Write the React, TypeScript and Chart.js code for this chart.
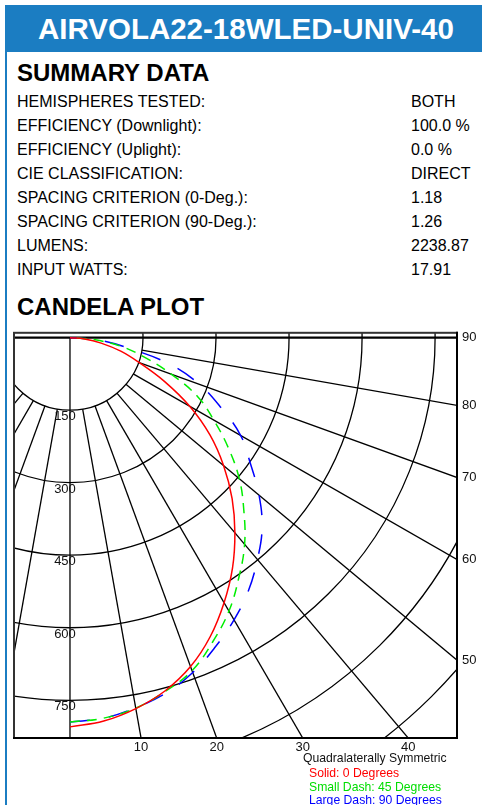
import React, { useEffect, useRef } from "react";
import { Chart, registerables } from "chart.js";

Chart.register(...registerables);

// ---------- data ----------
const TITLE = "AIRVOLA22-18WLED-UNIV-40";
const SUMMARY_LABELS = [
  "HEMISPHERES TESTED:",
  "EFFICIENCY (Downlight):",
  "EFFICIENCY (Uplight):",
  "CIE CLASSIFICATION:",
  "SPACING CRITERION (0-Deg.):",
  "SPACING CRITERION (90-Deg.):",
  "LUMENS:",
  "INPUT WATTS:",
];
const SUMMARY_VALUES = ["BOTH", "100.0 %", "0.0 %", "DIRECT", "1.18", "1.26", "2238.87", "17.91"];

// vertical angles (deg from nadir)
const ANGLES = [0, 5, 10, 15, 20, 25, 30, 35, 40, 45, 50, 55, 60, 65, 70, 75, 80, 85, 90];
// candela values per plane
const CANDELA_0 = [805, 796, 779, 756, 724, 682, 633, 582, 527, 471, 412, 351, 284, 214, 152, 108, 65, 30, 0];
const CANDELA_45 = [795, 790, 778, 757, 733, 694, 653, 605, 558, 505, 454, 397, 341, 290, 222, 160, 109, 52, 0];
const CANDELA_90 = [795, 790, 777, 761, 737, 706, 674, 639, 599, 558, 507, 452, 405, 342, 283, 212, 119, 60, 0];

const RING_VALUES = [150, 300, 450, 600, 750, 900, 1050, 1200, 1350];
const RING_LABELS = ["150", "300", "450", "600", "750"];
const RADIAL_ANGLES = [-90, -80, -70, -60, -50, -40, -30, -20, -10, 0, 10, 20, 30, 40, 50, 60, 70, 80, 90];
const BOTTOM_ANGLE_LABELS = ["10", "20", "30", "40"];
const SIDE_ANGLE_LABELS = ["90", "80", "70", "60", "50"];

const LEGEND_TITLE = "Quadralaterally Symmetric";
const LEGEND_ITEMS = ["Solid: 0 Degrees", "Small Dash: 45 Degrees", "Large Dash: 90 Degrees"];

// candela-space extents of the plot box
const X_MIN = -115;
const X_MAX = 795;
const Y_MIN = -828;
const Y_MAX = 10;

const FONT = "'Liberation Sans', Arial, Helvetica, sans-serif";
const BLUE = "#1b7dc2";

const rad = (d: number) => (d * Math.PI) / 180;
const toXY = (vals: number[]) =>
  ANGLES.map((a, i) => ({ x: vals[i] * Math.sin(rad(a)), y: -vals[i] * Math.cos(rad(a)) }));

const polarGrid = {
  id: "polarGrid",
  beforeDatasetsDraw(chart: any) {
    const { ctx, chartArea: a, scales } = chart;
    const xs = scales.x;
    const ys = scales.y;
    const cx = xs.getPixelForValue(0);
    const cy = ys.getPixelForValue(0);
    const kx = (xs.getPixelForValue(1000) - cx) / 1000;
    const ky = (ys.getPixelForValue(-1000) - cy) / 1000;
    ctx.save();
    ctx.beginPath();
    ctx.rect(a.left, a.top, a.right - a.left, a.bottom - a.top);
    ctx.clip();
    ctx.strokeStyle = "#000";
    ctx.lineWidth = 1.3;
    RING_VALUES.forEach((r) => {
      ctx.beginPath();
      ctx.ellipse(cx, cy, r * kx, r * ky, 0, 0, Math.PI * 2);
      ctx.stroke();
    });
    RADIAL_ANGLES.forEach((d) => {
      const full = d === 0 || Math.abs(d) === 90;
      const r0 = full ? 0 : RING_VALUES[0];
      const r1 = 4000;
      const s = Math.sin(rad(d));
      const c = Math.cos(rad(d));
      ctx.lineWidth = Math.abs(d) === 90 ? 2.2 : 1.3;
      ctx.beginPath();
      ctx.moveTo(cx + r0 * s * kx, cy + r0 * c * ky);
      ctx.lineTo(cx + r1 * s * kx, cy + r1 * c * ky);
      ctx.stroke();
    });
    ctx.fillStyle = "#111";
    ctx.font = `13px ${FONT}`;
    ctx.textAlign = "center";
    ctx.textBaseline = "top";
    RING_LABELS.forEach((lab, i) => {
      ctx.fillText(lab, cx - 5, cy + RING_VALUES[i] * ky);
    });
    ctx.restore();
  },
  afterDatasetsDraw(chart: any) {
    const { ctx, chartArea: a } = chart;
    ctx.save();
    ctx.strokeStyle = "#333";
    ctx.lineWidth = 2;
    ctx.strokeRect(a.left, a.top, a.right - a.left, a.bottom - a.top);
    ctx.strokeStyle = "#000";
    ctx.beginPath();
    ctx.moveTo(a.right, a.top - 1);
    ctx.lineTo(a.right, a.bottom);
    ctx.lineTo(a.left - 1, a.bottom);
    ctx.stroke();
    ctx.restore();
  },
};

function CandelaChart() {
  const ref = useRef<HTMLCanvasElement | null>(null);
  useEffect(() => {
    if (!ref.current) return;
    const chart = new Chart(ref.current, {
      type: "scatter",
      data: {
        datasets: [
          {
            label: "0",
            data: toXY(CANDELA_0),
            showLine: true,
            borderColor: "#ff0000",
            borderWidth: 1.5,
            pointRadius: 0,
            tension: 0.4,
          },
          {
            label: "45",
            data: toXY(CANDELA_45),
            showLine: true,
            borderColor: "#00ee00",
            borderWidth: 1.5,
            borderDash: [10, 7],
            pointRadius: 0,
            tension: 0.4,
          },
          {
            label: "90",
            data: toXY(CANDELA_90),
            showLine: true,
            borderColor: "#0000ff",
            borderWidth: 1.5,
            borderDash: [20, 19],
            pointRadius: 0,
            tension: 0.4,
          },
        ],
      },
      options: {
        animation: false,
        responsive: false,
        devicePixelRatio: 1,
        layout: { padding: { left: 14, top: 10, right: 0, bottom: 0 } },
        plugins: { legend: { display: false }, tooltip: { enabled: false } },
        scales: {
          x: {
            type: "linear",
            position: "bottom",
            min: X_MIN,
            max: X_MAX,
            grid: { display: false, drawTicks: false },
            border: { display: false },
            afterBuildTicks: (s: any) => {
              s.ticks = BOTTOM_ANGLE_LABELS.map((l) => ({ value: -Y_MIN * Math.tan(rad(Number(l))) }));
            },
            afterFit: (s: any) => {
              s.height = 67;
            },
            ticks: {
              autoSkip: false,
              maxRotation: 0,
              padding: 2,
              color: "#111",
              font: { family: FONT, size: 13 },
              callback: (_v: any, i: number) => BOTTOM_ANGLE_LABELS[i],
            },
          },
          y: {
            type: "linear",
            position: "right",
            min: Y_MIN,
            max: Y_MAX,
            grid: { display: false, drawTicks: false },
            border: { display: false },
            afterBuildTicks: (s: any) => {
              s.ticks = SIDE_ANGLE_LABELS.map((l) => {
                const d = Number(l);
                return { value: d === 90 ? 0 : -X_MAX / Math.tan(rad(d)) };
              });
            },
            afterFit: (s: any) => {
              s.width = 25;
            },
            ticks: {
              autoSkip: false,
              padding: 5,
              color: "#111",
              font: { family: FONT, size: 13 },
              callback: (_v: any, i: number) => SIDE_ANGLE_LABELS[i],
            },
          },
        },
      },
      plugins: [polarGrid],
    } as any);
    return () => chart.destroy();
  }, []);
  return (
    <canvas
      ref={ref}
      width={482}
      height={485}
      style={{ position: "absolute", left: 0, top: 320, width: 482, height: 485, display: "block" }}
    />
  );
}

export default function App() {
  const legendColors = ["#ff0000", "#00dd00", "#0000ff"];
  return (
    <div
      style={{
        position: "absolute",
        left: 0,
        top: 0,
        width: 482,
        height: 805,
        overflow: "hidden",
        background: "#fff",
        fontFamily: FONT,
        color: "#000",
      }}
    >
      <div style={{ position: "absolute", left: 5, top: 5, width: 477, height: 47, background: BLUE }} />
      <div style={{ position: "absolute", left: 5, top: 52, width: 2, height: 753, background: BLUE }} />
      <div
        style={{
          position: "absolute",
          left: 38,
          top: 14.4,
          fontSize: 29.5,
          lineHeight: "29.5px",
          fontWeight: "bold",
          color: "#fff",
          whiteSpace: "nowrap",
        }}
      >
        {TITLE}
      </div>
      <div
        style={{ position: "absolute", left: 17, top: 60.8, fontSize: 24, lineHeight: "24px", fontWeight: "bold", whiteSpace: "nowrap" }}
      >
        SUMMARY DATA
      </div>
      {SUMMARY_LABELS.map((lab, i) => (
        <React.Fragment key={lab}>
          <div
            style={{ position: "absolute", left: 17, top: 101.5 + i * 24 - 7.8, fontSize: 16, lineHeight: "16px", whiteSpace: "nowrap" }}
          >
            {lab}
          </div>
          <div
            style={{ position: "absolute", left: 411, top: 101.5 + i * 24 - 7.8, fontSize: 16, lineHeight: "16px", whiteSpace: "nowrap" }}
          >
            {SUMMARY_VALUES[i]}
          </div>
        </React.Fragment>
      ))}
      <div
        style={{ position: "absolute", left: 17, top: 295, fontSize: 24, lineHeight: "24px", fontWeight: "bold", whiteSpace: "nowrap" }}
      >
        CANDELA PLOT
      </div>
      <CandelaChart />
      <div style={{ position: "absolute", left: 303, top: 752, fontSize: 12.2, lineHeight: "12px", color: "#111", whiteSpace: "nowrap" }}>
        {LEGEND_TITLE}
      </div>
      {LEGEND_ITEMS.map((t, i) => (
        <div
          key={t}
          style={{
            position: "absolute",
            left: 309,
            top: 767 + i * 13.7,
            fontSize: 12.2,
            lineHeight: "12px",
            color: legendColors[i],
            whiteSpace: "nowrap",
          }}
        >
          {t}
        </div>
      ))}
    </div>
  );
}
